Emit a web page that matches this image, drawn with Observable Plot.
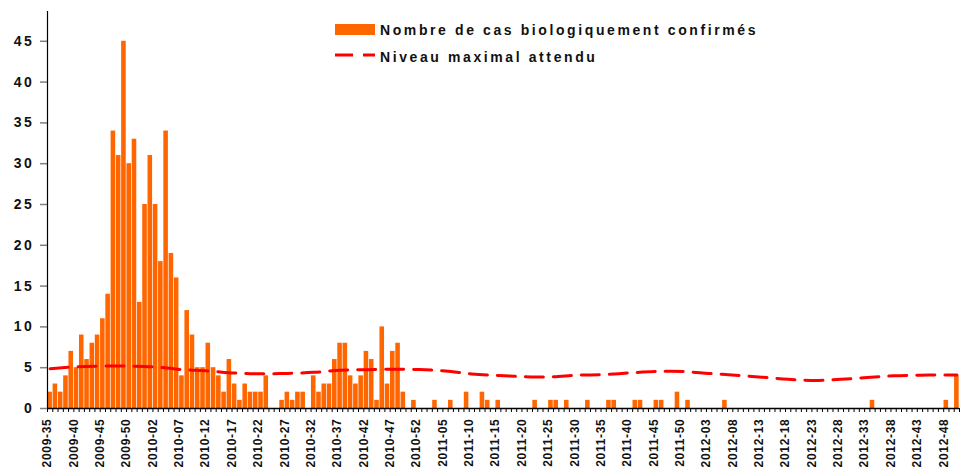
<!DOCTYPE html>
<html>
<head>
<meta charset="utf-8">
<script src="https://cdn.jsdelivr.net/npm/d3@7"></script>
<script src="https://cdn.jsdelivr.net/npm/@observablehq/plot@0.6"></script>
<style>
  html, body { margin: 0; padding: 0; background: #fff; }
  #wrap { position: relative; width: 962px; height: 468px; overflow: hidden;
          font-family: "Liberation Sans", Arial, sans-serif; }
  .legtext { position: absolute; left: 380px; font-weight: bold; font-size: 14px;
             line-height: 14px; letter-spacing: 2.6px; color: #111; white-space: nowrap; }
  .swatch { position: absolute; left: 335px; top: 24px; width: 40px; height: 11px; background: #FF6600; }
  .dash { position: absolute; left: 335px; top: 52px; }
  g[aria-label="y-axis tick label"] text { letter-spacing: 2.6px; }
  g[aria-label="x-axis tick label"] text { letter-spacing: 0.7px; }
</style>
</head>
<body>
<div id="wrap"></div>
<script>
// Weekly categories: ISO weeks from 2009-35 to 2012-50
const weekSpans = [[2009, 35, 53], [2010, 1, 52], [2011, 1, 52], [2012, 1, 50]];
const weeks = weekSpans.flatMap(([y, a, b]) => d3.range(a, b + 1).map(w => `${y}-${String(w).padStart(2, "0")}`));

// Nombre de cas biologiquement confirmés (one value per week)
const cases = [
  2, 3, 2, 4, 7, 5, 9, 6, 8, 9,
  11, 14, 34, 31, 45, 30, 33, 13, 25, 31,
  25, 18, 34, 19, 16, 4, 12, 9, 5, 5,
  8, 5, 4, 2, 6, 3, 1, 3, 2, 2,
  2, 4, 0, 0, 1, 2, 1, 2, 2, 0,
  4, 2, 3, 3, 6, 8, 8, 4, 3, 4,
  7, 6, 1, 10, 3, 7, 8, 2, 0, 1,
  0, 0, 0, 1, 0, 0, 1, 0, 0, 2,
  0, 0, 2, 1, 0, 1, 0, 0, 0, 0,
  0, 0, 1, 0, 0, 1, 1, 0, 1, 0,
  0, 0, 1, 0, 0, 0, 1, 1, 0, 0,
  0, 1, 1, 0, 0, 1, 1, 0, 0, 2,
  0, 1, 0, 0, 0, 0, 0, 0, 1, 0,
  0, 0, 0, 0, 0, 0, 0, 0, 0, 0,
  0, 0, 0, 0, 0, 0, 0, 0, 0, 0,
  0, 0, 0, 0, 0, 0, 1, 0, 0, 0,
  0, 0, 0, 0, 0, 0, 0, 0, 0, 0,
  1, 0, 4
];

// x tick labels (every 5 weeks)
const tickLabels = ["2009-35","2009-40","2009-45","2009-50","2010-02","2010-07","2010-12","2010-17","2010-22",
  "2010-27","2010-32","2010-37","2010-42","2010-47","2010-52","2011-05","2011-10","2011-15","2011-20",
  "2011-25","2011-30","2011-35","2011-40","2011-45","2011-50","2012-03","2012-08","2012-13","2012-18",
  "2012-23","2012-28","2012-33","2012-38","2012-43","2012-48"];

// Niveau maximal attendu (read at the labelled weeks)
const expectedWeeks = tickLabels.concat(["2012-50"]);
const expectedValues = [4.86, 5.12, 5.2, 5.19, 5.08, 4.77, 4.6, 4.35, 4.25, 4.3, 4.43, 4.7, 4.75, 4.82,
  4.77, 4.6, 4.24, 4.05, 3.9, 3.87, 4.08, 4.15, 4.37, 4.53, 4.53, 4.3, 4.08, 3.84, 3.58, 3.43, 3.58,
  3.8, 4.0, 4.08, 4.1, 4.12];

const yTicks = [0, 5, 10, 15, 20, 25, 30, 35, 40, 45];

const barData = weeks.map((w, i) => ({i, week: w, cases: cases[i]}));
const lineData = expectedWeeks.map((w, k) => ({i: weeks.indexOf(w), value: expectedValues[k]}));
const labelIdx = tickLabels.map(l => weeks.indexOf(l));

const chart = Plot.plot({
  width: 962,
  height: 468,
  marginLeft: 47,
  marginRight: 3,
  marginTop: 11,
  marginBottom: 60,
  x: {type: "linear", domain: [0, weeks.length], axis: null, label: null},
  y: {domain: [0, 48.65], axis: null, label: null},
  style: {fontFamily: "'Liberation Sans', Arial, sans-serif", color: "#111", background: "#fff"},
  marks: [
    Plot.rectY(barData, {x1: "i", x2: d => d.i + 1, y: "cases", fill: "#FF6600", insetLeft: 0.35, insetRight: 0.35}),
    Plot.line(lineData, {x: d => d.i + 0.5, y: "value", stroke: "#FF0000", strokeWidth: 3,
      strokeDasharray: "18,10", curve: "catmull-rom"}),
    Plot.axisY({ticks: yTicks, tickSize: 7, tickPadding: 6, stroke: "#808080", strokeWidth: 1.5,
      fill: "#111", fontSize: 14, fontWeight: "bold", tickFormat: d => String(d), label: null}),
    Plot.ruleX([0], {stroke: "#000", strokeWidth: 1.2}),
    Plot.axisX({ticks: d3.range(weeks.length + 1), tickSize: 4, stroke: "#000", strokeWidth: 1, text: null, label: null}),
    Plot.axisX({ticks: labelIdx, tickSize: 0, tickPadding: 10, tickRotate: -90, fill: "#111",
      fontSize: 12, fontWeight: "bold", tickFormat: i => weeks[i], label: null}),
    Plot.ruleY([0], {stroke: "#000", strokeWidth: 1.3})
  ]
});

const wrap = document.getElementById("wrap");
wrap.appendChild(chart);

// Legend (overlaid inside the plot area)
const sw = document.createElement("div"); sw.className = "swatch"; wrap.appendChild(sw);
const t1 = document.createElement("div"); t1.className = "legtext"; t1.style.top = "23px";
t1.textContent = "Nombre de cas biologiquement confirmés"; wrap.appendChild(t1);
const dash = document.createElementNS("http://www.w3.org/2000/svg", "svg");
dash.setAttribute("class", "dash"); dash.setAttribute("width", "40"); dash.setAttribute("height", "6");
const ln = document.createElementNS("http://www.w3.org/2000/svg", "line");
ln.setAttribute("x1", "0"); ln.setAttribute("x2", "40"); ln.setAttribute("y1", "3"); ln.setAttribute("y2", "3");
ln.setAttribute("stroke", "#FF0000"); ln.setAttribute("stroke-width", "3"); ln.setAttribute("stroke-dasharray", "18,10");
dash.appendChild(ln); wrap.appendChild(dash);
const t2 = document.createElement("div"); t2.className = "legtext"; t2.style.top = "50px";
t2.textContent = "Niveau maximal attendu"; wrap.appendChild(t2);
</script>
</body>
</html>
